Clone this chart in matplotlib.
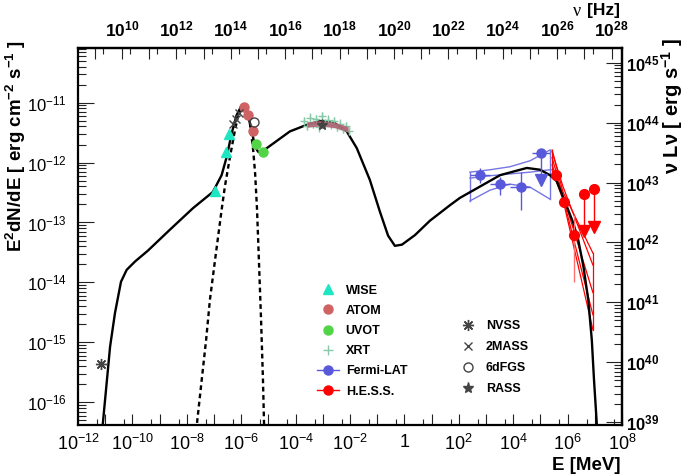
import numpy as np
import matplotlib
matplotlib.use('Agg')
import matplotlib.pyplot as plt
from matplotlib.lines import Line2D
from matplotlib.ticker import FixedLocator, FuncFormatter, NullFormatter

plt.rcParams['font.family'] = ['Liberation Sans', 'DejaVu Sans']
plt.rcParams['mathtext.fontset'] = 'custom'
plt.rcParams['mathtext.rm'] = 'Liberation Sans'
plt.rcParams['mathtext.it'] = 'Liberation Sans:italic'
plt.rcParams['mathtext.bf'] = 'Liberation Sans:bold'
plt.rcParams['mathtext.default'] = 'regular'

# ---------------- data (log10 E [MeV], log10 E^2dN/dE [erg cm-2 s-1]) ----------------
model_logE = [-11.15, -11.09, -10.82, -10.64, -10.42, -10.21, -9.90, -9.43, -8.62, -7.77,
              -7.04, -6.72, -6.53, -6.35, -6.17, -6.01, -5.86, -5.68, -5.49, -5.38,
              -5.30, -5.06, -4.21, -3.59, -3.10, -2.63, -2.12, -1.75, -1.27, -0.90,
              -0.60, -0.35, -0.09, 0.39, 0.94, 1.68, 2.04, 2.78, 3.52, 4.50,
              4.99, 5.35, 5.60, 5.97, 6.21, 6.39, 6.58, 6.76, 6.89, 6.97, 7.07, 7.10]
model_logF = [-16.62, -16.37, -15.07, -14.51, -13.99, -13.79, -13.65, -13.47, -13.12, -12.76,
              -12.49, -12.21, -11.90, -11.51, -11.21, -11.07, -11.07, -11.34, -11.73, -11.82,
              -11.83, -11.76, -11.48, -11.37, -11.31, -11.32, -11.48, -11.76, -12.29, -12.82,
              -13.22, -13.39, -13.37, -13.21, -12.97, -12.71, -12.59, -12.40, -12.21, -12.09,
              -12.12, -12.21, -12.31, -12.73, -13.01, -13.29, -13.73, -14.29, -14.96, -15.62, -16.34, -16.62]

host_logE = [-7.66, -7.63, -7.45, -7.29, -7.15, -6.96, -6.72, -6.60, -6.41, -6.23, -6.12,
             -5.99, -5.86, -5.68, -5.56, -5.49, -5.42, -5.35, -5.27, -5.20, -5.16, -5.14]
host_logF = [-16.62, -16.37, -15.62, -14.96, -14.29, -13.62, -12.79, -12.40, -11.90, -11.46, -11.23,
             -11.09, -11.07, -11.34, -11.79, -12.17, -12.76, -13.62, -14.62, -15.62, -16.37, -16.62]

wise_logE = [-6.96, -6.57, -6.44]
wise_logF = [-12.48, -11.83, -11.52]

atom_logE = [-5.88, -5.76, -5.56]
atom_logF = [-11.07, -11.21, -11.48]

uvot_logE = [-5.46, -5.19]
uvot_logF = [-11.69, -11.83]

xrt_logE = [-3.69, -3.58, -3.47, -3.36, -3.25, -3.14, -3.03, -2.92,
            -2.81, -2.70, -2.59, -2.48, -2.37, -2.26, -2.15, -2.04]
xrt_logF = [-11.31, -11.39, -11.26, -11.36, -11.27, -11.41, -11.22, -11.34,
            -11.29, -11.37, -11.31, -11.41, -11.36, -11.44, -11.39, -11.47]
xrt_err_dex = [0.07, 0.06, 0.08, 0.06, 0.07, 0.08, 0.06, 0.07,
               0.08, 0.06, 0.07, 0.06, 0.08, 0.07, 0.06, 0.07]

xrt_band_logE = [-3.58, -3.10, -2.55, -2.07]
xrt_band_hi = [-11.32, -11.30, -11.33, -11.40]
xrt_band_lo = [-11.41, -11.39, -11.42, -11.49]

nvss_logE, nvss_logF = [-11.17], [-15.37]
mass2_logE = [-6.30, -6.19, -6.08]
mass2_logF = [-11.36, -11.27, -11.17]
dfgs_logE, dfgs_logF = [-5.53], [-11.33]
rass_logE, rass_logF = [-3.04], [-11.37]

fermi_logE = [2.78, 3.52, 4.28]
fermi_logE_lo = [2.41, 3.15, 3.88]
fermi_logE_hi = [3.15, 3.88, 4.62]
fermi_logF = [-12.21, -12.36, -12.41]
fermi_logF_lo = [-12.34, -12.54, -12.79]
fermi_logF_hi = [-12.09, -12.24, -12.16]
fermi_ul_logE, fermi_ul_lo, fermi_ul_hi = [5.01], [4.68], [5.35]
fermi_ul_logF, fermi_ul_arrow = [-11.84], [-12.29]

fermi_bt_logE = [2.41, 3.15, 3.88, 4.62, 5.35]
fermi_bt_up = [-12.16, -12.12, -12.07, -11.97, -11.79]
fermi_bt_mid = [-12.26, -12.22, -12.19, -12.16, -12.12]
fermi_bt_low = [-12.64, -12.46, -12.36, -12.41, -12.61]

hess_logE = [5.56, 5.88, 6.24]
hess_logF = [-12.21, -12.65, -13.21]
hess_logF_lo = [-12.27, -12.72, -13.99]
hess_logF_hi = [-12.15, -12.58, -12.87]
hess_ul_logE = [6.60, 6.97]
hess_ul_logF = [-12.53, -12.44]
hess_ul_arrow = [-13.15, -13.07]

hess_bt_logE = [5.43, 5.83, 6.93]
hess_bt_lines = [[-11.79, -12.49, -13.51],
                 [-12.12, -12.62, -14.79],
                 [-11.92, -12.55, -14.17],
                 [-11.82, -12.40, -13.71],
                 [-12.04, -12.58, -14.54]]

LOG_LUM_OFFSET = 55.333      # log10(4 pi d_L^2)
NU_PER_MEV = 2.418e20        # Hz per MeV

# ---------------- colours ----------------
c_wise = '#1ee6c3'
c_atom = '#cf6262'
c_uvot = '#52d447'
c_xrt = '#86c9a6'
c_band = '#b06474'
c_fermi = '#5858da'
c_fermi_bt = '#7676e4'
c_hess = '#ff0000'
c_gray = '#444444'

P = lambda a: 10 ** np.asarray(a, dtype=float)

fig = plt.figure(figsize=(6.87, 4.75), dpi=100)
ax = fig.add_axes([78 / 687, 1 - 425 / 475, 544 / 687, 377 / 475])
ax.set_xscale('log')
ax.set_yscale('log')
ax.set_xlim(1e-12, 1e8)
ax.set_ylim(10 ** -16.38, 10 ** -10.088)

# model curves
ax.plot(P(model_logE), P(model_logF), color='black', lw=1.7, zorder=3)
ax.plot(P(host_logE), P(host_logF), color='black', lw=1.7, dashes=(2.0, 1.5), zorder=3)

# XRT
xf = P(xrt_logF)
xe = np.asarray(xrt_err_dex)
ax.errorbar(P(xrt_logE), xf, yerr=[xf - xf / 10 ** xe, xf * 10 ** xe - xf], fmt='+',
            color=c_xrt, ms=6, mew=1.0, elinewidth=0.9, capsize=0, zorder=4)
ax.fill_between(P(xrt_band_logE), P(xrt_band_lo), P(xrt_band_hi), color=c_band,
                alpha=0.9, lw=0, zorder=4.5)

# optical / IR / radio
ax.plot(P(wise_logE), P(wise_logF), ls='none', marker='^', color=c_wise, ms=6.5, zorder=5)
ax.plot(P(atom_logE), P(atom_logF), ls='none', marker='o', color=c_atom, ms=6.5, zorder=5)
ax.plot(P(uvot_logE), P(uvot_logF), ls='none', marker='o', color=c_uvot, ms=6.5, zorder=5)
ax.plot(P(nvss_logE), P(nvss_logF), ls='none', marker=(8, 2, 0), color=c_gray, ms=8, mew=1.0, zorder=5)
ax.plot(P(mass2_logE), P(mass2_logF), ls='none', marker='x', color=c_gray, ms=6, mew=1.0, zorder=5)
ax.plot(P(dfgs_logE), P(dfgs_logF), ls='none', marker='o', mfc='none', mec=c_gray, ms=6.5, mew=1.0, zorder=5)
ax.plot(P(rass_logE), P(rass_logF), ls='none', marker='*', color=c_gray, ms=8, zorder=6)

# Fermi butterfly
be = P(fermi_bt_logE)
for arr in (fermi_bt_up, fermi_bt_mid, fermi_bt_low):
    ax.plot(be, P(arr), color=c_fermi_bt, lw=1.0, zorder=2)
for i in (0, -1):
    ax.plot([be[i], be[i]], [P(fermi_bt_low)[i], P(fermi_bt_up)[i]], color=c_fermi_bt, lw=1.0, zorder=2)

fe = P(fermi_logE)
ff = P(fermi_logF)
ax.errorbar(fe, ff, xerr=[fe - P(fermi_logE_lo), P(fermi_logE_hi) - fe],
            yerr=[ff - P(fermi_logF_lo), P(fermi_logF_hi) - ff], fmt='o', color=c_fermi,
            ms=6.5, elinewidth=1.0, capsize=0, zorder=5)
ue = P(fermi_ul_logE)
uf = P(fermi_ul_logF)
ax.errorbar(ue, uf, xerr=[ue - P(fermi_ul_lo), P(fermi_ul_hi) - ue], fmt='o', color=c_fermi,
            ms=6.5, elinewidth=1.0, capsize=0, zorder=5)
for e, f, a in zip(ue, uf, P(fermi_ul_arrow)):
    ax.plot([e, e], [f, a], color=c_fermi, lw=1.0, zorder=5)
    ax.plot([e], [a], marker='v', color=c_fermi, ms=8, ls='none', zorder=5)

# HESS butterfly
he = P(hess_bt_logE)
for arr in hess_bt_lines:
    ax.plot(he, P(arr), color=c_hess, lw=0.9, zorder=2)
lows = [min(a[0] for a in hess_bt_lines), min(a[-1] for a in hess_bt_lines)]
highs = [max(a[0] for a in hess_bt_lines), max(a[-1] for a in hess_bt_lines)]
ax.plot([he[0], he[0]], [P(lows[0]), P(highs[0])], color=c_hess, lw=0.9, zorder=2)
ax.plot([he[-1], he[-1]], [P(lows[1]), P(highs[1])], color=c_hess, lw=0.9, zorder=2)

hf = P(hess_logF)
ax.errorbar(P(hess_logE), hf, yerr=[hf - P(hess_logF_lo), P(hess_logF_hi) - hf], fmt='o',
            color=c_hess, ecolor='#ff7070', ms=7, elinewidth=1.0, capsize=0, zorder=5)
for e, f, a in zip(P(hess_ul_logE), P(hess_ul_logF), P(hess_ul_arrow)):
    ax.plot([e, e], [f, a], color=c_hess, lw=1.0, zorder=5)
    ax.plot([e], [f], marker='o', color=c_hess, ms=7, ls='none', zorder=5)
    ax.plot([e], [a], marker='v', color=c_hess, ms=8, ls='none', zorder=5)

# ---------------- axes styling ----------------
for s in ax.spines.values():
    s.set_linewidth(1.6)

xmaj = 10.0 ** np.arange(-12, 9)
ax.xaxis.set_major_locator(FixedLocator(xmaj))
def xfmt(v, pos):
    k = int(round(np.log10(v)))
    if k % 2:
        return ''
    return '1' if k == 0 else r'$10^{%d}$' % k
ax.xaxis.set_major_formatter(FuncFormatter(xfmt))
ax.xaxis.set_minor_locator(FixedLocator(5 * 10.0 ** np.arange(-12, 8)))
ax.xaxis.set_minor_formatter(NullFormatter())

ymaj = 10.0 ** np.arange(-16, -10)
ax.yaxis.set_major_locator(FixedLocator(ymaj))
ax.yaxis.set_major_formatter(FuncFormatter(lambda v, p: r'$10^{%d}$' % int(round(np.log10(v)))))
ax.yaxis.set_minor_locator(FixedLocator([m * 10.0 ** k for k in range(-17, -10) for m in range(2, 10)]))
ax.yaxis.set_minor_formatter(NullFormatter())

ax.tick_params(which='both', direction='in', top=False, right=False, width=0.8, colors='#222222')
ax.tick_params(axis='x', which='major', length=8, pad=6.5, labelsize=13, labelcolor='black')
ax.tick_params(axis='x', which='minor', length=4)
ax.tick_params(axis='y', which='major', length=11.5, pad=8, labelsize=12, labelcolor='black')
ax.tick_params(axis='y', which='minor', length=5.5)

# top axis: frequency
top = ax.secondary_xaxis('top', functions=(lambda e: e * NU_PER_MEV, lambda n: n / NU_PER_MEV))
top.xaxis.set_major_locator(FixedLocator(10.0 ** np.arange(9, 29)))
def tfmt(v, pos):
    k = int(round(np.log10(v)))
    return r'$10^{%d}$' % k if k % 2 == 0 else ''
top.xaxis.set_major_formatter(FuncFormatter(tfmt))
top.xaxis.set_minor_locator(FixedLocator(2 * 10.0 ** np.arange(8, 28)))
top.xaxis.set_minor_formatter(NullFormatter())
top.tick_params(which='both', direction='in', width=0.8, colors='#222222')
top.tick_params(which='major', length=8, pad=6, labelsize=12.5, labelcolor='black')
top.tick_params(which='minor', length=4)
for lab in top.get_xticklabels():
    lab.set_fontweight('bold')
top.spines['top'].set_linewidth(1.6)

# right axis: luminosity
rgt = ax.secondary_yaxis('right', functions=(lambda f: f * 10 ** LOG_LUM_OFFSET,
                                             lambda l: l / 10 ** LOG_LUM_OFFSET))
rgt.yaxis.set_major_locator(FixedLocator(10.0 ** np.arange(39, 46)))
rgt.yaxis.set_major_formatter(FuncFormatter(lambda v, p: r'$10^{%d}$' % int(round(np.log10(v)))))
rgt.yaxis.set_minor_locator(FixedLocator([m * 10.0 ** k for k in range(38, 46) for m in range(2, 10)]))
rgt.yaxis.set_minor_formatter(NullFormatter())
rgt.tick_params(which='both', direction='in', width=0.8, colors='#222222')
rgt.tick_params(which='major', length=11.5, pad=3, labelsize=12, labelcolor='black')
rgt.tick_params(which='minor', length=5.5)
for lab in rgt.get_yticklabels():
    lab.set_fontweight('bold')
rgt.spines['right'].set_linewidth(1.6)

# titles
fig.text(16 / 687, 1 - 40 / 475, r'E$^{2}$dN/dE [ erg cm$^{-2}$ s$^{-1}$ ]', rotation=90,
         ha='center', va='top', fontsize=13.5, fontweight='bold')
fig.text(672 / 687, 1 - 38 / 475, r'ν Lν [ erg s$^{-1}$ ]', rotation=90,
         ha='center', va='top', fontsize=14.5, fontweight='bold')
fig.text(621 / 687, 1 - 465 / 475, 'E [MeV]', ha='right', va='center', fontsize=13.5, fontweight='bold')
fig.text(577 / 687, 1 - 11 / 475, 'ν', ha='center', va='center', fontsize=13, family='Liberation Serif')
fig.text(587 / 687, 1 - 11 / 475, '[Hz]', ha='left', va='center', fontsize=12.5, fontweight='bold')

# legends
h1 = [Line2D([], [], ls='none', marker='^', color=c_wise, ms=6.5),
      Line2D([], [], ls='none', marker='o', color=c_atom, ms=6.5),
      Line2D([], [], ls='none', marker='o', color=c_uvot, ms=6.5),
      Line2D([], [], ls='none', marker='+', color=c_xrt, ms=6.5, mew=1.0),
      Line2D([], [], ls='-', marker='o', color=c_fermi, ms=6.5, lw=1.0),
      Line2D([], [], ls='-', marker='o', color=c_hess, ms=6.5, lw=1.0)]
l1 = ['WISE', 'ATOM', 'UVOT', 'XRT', 'Fermi-LAT', 'H.E.S.S.']
fig.legend(h1, l1, loc='upper left', bbox_to_anchor=(317 / 687, 1 - 284.5 / 475), frameon=False,
           prop={'weight': 'bold', 'size': 9}, handlelength=1.75, handletextpad=0.55,
           labelspacing=0.66, borderpad=0, borderaxespad=0, numpoints=1)
h2 = [Line2D([], [], ls='none', marker=(8, 2, 0), color=c_gray, ms=8, mew=1.0),
      Line2D([], [], ls='none', marker='x', color=c_gray, ms=6, mew=1.0),
      Line2D([], [], ls='none', marker='o', mfc='none', mec=c_gray, ms=6.5, mew=1.0),
      Line2D([], [], ls='none', marker='*', color=c_gray, ms=8)]
l2 = ['NVSS', '2MASS', '6dFGS', 'RASS']
fig.legend(h2, l2, loc='upper left', bbox_to_anchor=(457 / 687, 1 - 320 / 475), frameon=False,
           prop={'weight': 'bold', 'size': 9}, handlelength=1.75, handletextpad=0.55,
           labelspacing=0.72, borderpad=0, borderaxespad=0, numpoints=1)

fig.savefig('out.png', dpi=100)
